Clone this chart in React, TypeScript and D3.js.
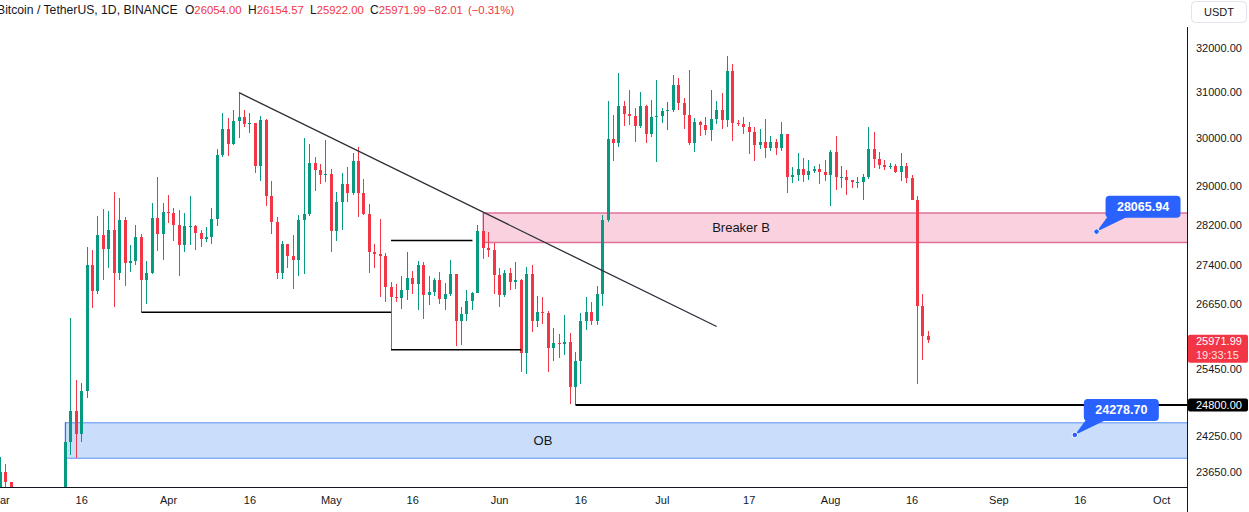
import React from "react";
import * as d3 from "d3";

type Row = [number, number, number, number, number]; // day, open, high, low, close

const march: Row[] = [
  [1, 23130, 23900, 23020, 23640], [2, 23640, 23780, 23195, 23470], [3, 23470, 23480, 21971, 22355],
  [4, 22355, 22410, 22150, 22346], [5, 22346, 22620, 22200, 22430], [6, 22430, 22560, 22250, 22410],
  [7, 22410, 22535, 21930, 22197], [8, 22197, 22270, 21580, 21705], [9, 21705, 21820, 20040, 20363],
  [10, 20363, 20367, 19549, 20187], [11, 20187, 20790, 19888, 20628], [12, 20628, 22200, 20390, 22163],
  [13, 22163, 24500, 21918, 24150], [14, 24150, 26386, 23930, 24700], [15, 24700, 25240, 23885, 24290],
  [16, 24290, 25200, 24150, 25050], [17, 25050, 27760, 24920, 27400], [18, 27400, 27710, 26580, 26900],
  [19, 26900, 28390, 26840, 27990], [20, 27990, 28520, 27120, 27720], [21, 27720, 28490, 27350, 28100],
  [22, 28100, 28870, 26600, 27250], [23, 27250, 28750, 27110, 28300], [24, 28300, 28360, 27000, 27450],
  [25, 27450, 27790, 27270, 27480], [26, 27480, 28195, 27400, 27960], [27, 27960, 28010, 26500, 27110],
  [28, 27110, 27480, 26650, 27250], [29, 27250, 28650, 27240, 28350], [30, 28350, 29184, 27680, 28020],
  [31, 28020, 28650, 27500, 28470],
];

const april: Row[] = [
  [1, 28470, 28800, 28230, 28440], [2, 28440, 28540, 27870, 28190], [3, 28190, 28500, 27200, 27790],
  [4, 27790, 28450, 27660, 28170], [5, 28170, 28780, 27800, 28180], [6, 28180, 28190, 27700, 28040],
  [7, 28040, 28100, 27770, 27920], [8, 27920, 28150, 27860, 27950], [9, 27950, 28540, 27820, 28320],
  [10, 28320, 29770, 28170, 29640], [11, 29640, 30550, 29590, 30200], [12, 30200, 30430, 29630, 29880],
  [13, 29880, 30600, 29860, 30370], [14, 30370, 30990, 30000, 30460], [15, 30460, 30600, 30240, 30300],
  [16, 30300, 30550, 30120, 30320], [17, 30320, 30330, 29260, 29420], [18, 29420, 30480, 29100, 30390],
  [19, 30390, 30410, 28580, 28790], [20, 28790, 29090, 28010, 28250], [21, 28250, 28370, 27130, 27260],
  [22, 27260, 27880, 27130, 27820], [23, 27820, 27820, 27340, 27580], [24, 27580, 28000, 26950, 27510],
  [25, 27510, 28400, 27200, 28300], [26, 28300, 30000, 27230, 28420], [27, 28420, 29880, 28380, 29480],
  [28, 29480, 29600, 28890, 29320], [29, 29320, 29450, 29030, 29230], [30, 29230, 29960, 29070, 29240],
];

const may: Row[] = [
  [1, 29240, 29340, 27670, 28070], [2, 28070, 28880, 27870, 28670], [3, 28670, 29270, 28100, 29030],
  [4, 29030, 29380, 28670, 28840], [5, 28840, 29680, 28800, 29510], [6, 29510, 29820, 28370, 28850],
  [7, 28850, 29140, 28400, 28430], [8, 28430, 28630, 27260, 27660], [9, 27660, 27820, 27350, 27620],
  [10, 27620, 28330, 26780, 27590], [11, 27590, 27650, 26700, 26970], [12, 26970, 27080, 25800, 26790],
  [13, 26790, 27030, 26690, 26770], [14, 26770, 27200, 26560, 26920], [15, 26920, 27670, 26740, 27160],
  [16, 27160, 27280, 26850, 27030], [17, 27030, 27490, 26550, 27410], [18, 27410, 27470, 26370, 26830],
  [19, 26830, 27200, 26630, 26890], [20, 26890, 27160, 26800, 27110], [21, 27110, 27270, 26650, 26750],
  [22, 26750, 27050, 26550, 26850], [23, 26850, 27500, 26800, 27225], [24, 27225, 27225, 25870, 26330],
  [25, 26330, 26600, 25880, 26470], [26, 26470, 26930, 26330, 26720], [27, 26720, 26890, 26540, 26870],
  [28, 26870, 28200, 26870, 28080], [29, 28080, 28447, 27520, 27740], [30, 27740, 28050, 27560, 27700],
  [31, 27700, 27840, 26840, 27210],
];

const june: Row[] = [
  [1, 27210, 27350, 26600, 26820], [2, 26820, 27300, 26780, 27250], [3, 27250, 27340, 26920, 27070],
  [4, 27070, 27460, 26950, 27110], [5, 27110, 27130, 25390, 25730], [6, 25730, 27360, 25350, 27230],
  [7, 27230, 27400, 26120, 26340], [8, 26340, 26800, 26230, 26500], [9, 26500, 26780, 26270, 26480],
  [10, 26480, 26530, 25400, 25840], [11, 25840, 26200, 25600, 25920], [12, 25920, 26090, 25650, 25900],
  [13, 25900, 26440, 25700, 25940], [14, 25940, 26100, 24820, 25130], [15, 25130, 25750, 24800, 25600],
  [16, 25600, 26490, 25170, 26340], [17, 26340, 26780, 26170, 26510], [18, 26510, 26700, 26260, 26340],
  [19, 26340, 27000, 26260, 26840], [20, 26840, 28400, 26610, 28310], [21, 28310, 30800, 28260, 29990],
  [22, 29990, 30500, 29520, 29890], [23, 29890, 31430, 29810, 30690], [24, 30690, 30800, 30260, 30530],
  [25, 30530, 31050, 30280, 30470], [26, 30470, 30650, 29920, 30270], [27, 30270, 31000, 30220, 30690],
  [28, 30690, 30710, 29900, 30080], [29, 30080, 30830, 30030, 30450], [30, 30450, 31280, 29500, 30480],
];

const july: Row[] = [
  [1, 30480, 30660, 30320, 30590], [2, 30590, 30790, 30170, 30620], [3, 30620, 31380, 30560, 31160],
  [4, 31160, 31320, 30620, 30770], [5, 30770, 30880, 30200, 30510], [6, 30510, 31500, 29850, 29900],
  [7, 29900, 30440, 29700, 30350], [8, 30350, 30380, 30050, 30290], [9, 30290, 30450, 30070, 30170],
  [10, 30170, 31045, 29950, 30420], [11, 30420, 30800, 30300, 30620], [12, 30620, 30990, 30200, 30390],
  [13, 30390, 31814, 30250, 31470], [14, 31470, 31640, 29940, 30330], [15, 30330, 30390, 30260, 30300],
  [16, 30300, 30460, 30080, 30240], [17, 30240, 30340, 29660, 30140], [18, 30140, 30240, 29520, 29860],
  [19, 29860, 30190, 29770, 29910], [20, 29910, 30420, 29570, 29800], [21, 29800, 30050, 29730, 29910],
  [22, 29910, 29990, 29640, 29790], [23, 29790, 30350, 29730, 30080], [24, 30080, 30100, 28860, 29180],
  [25, 29180, 29380, 29050, 29230], [26, 29230, 29690, 29100, 29350], [27, 29350, 29580, 29080, 29220],
  [28, 29220, 29530, 29120, 29310], [29, 29310, 29410, 29260, 29350], [30, 29350, 29450, 29030, 29280],
  [31, 29280, 29530, 29100, 29230],
];

const august: Row[] = [
  [1, 29230, 29740, 28590, 29710], [2, 29710, 30050, 28920, 29180], [3, 29180, 29410, 28960, 29190],
  [4, 29190, 29330, 28810, 29110], [5, 29110, 29125, 28950, 29070], [6, 29070, 29180, 28960, 29080],
  [7, 29080, 29250, 28700, 29180], [8, 29180, 30240, 29130, 29770], [9, 29770, 30140, 29370, 29560],
  [10, 29560, 29700, 29350, 29430], [11, 29430, 29540, 29330, 29400], [12, 29400, 29470, 29350, 29420],
  [13, 29420, 29450, 29260, 29280], [14, 29280, 29690, 29090, 29410], [15, 29410, 29480, 29060, 29170],
  [16, 29170, 29230, 28700, 28700], [17, 28700, 28790, 25170, 26620], [18, 26620, 26840, 25610, 26050],
  [19, 26054.0, 26154.57, 25922.0, 25971.99],
];

const monthBlocks: [number, Row[]][] = [
  [2, march], [3, april], [4, may], [5, june], [6, july], [7, august],
];

const priceTicks = [32000, 31000, 30000, 29000, 28200, 27400, 26650, 25450, 24250, 23650];
const timeTicks: [string, string][] = [
  ["2023-03-01", "Mar"], ["2023-03-16", "16"], ["2023-04-01", "Apr"], ["2023-04-16", "16"],
  ["2023-05-01", "May"], ["2023-05-16", "16"], ["2023-06-01", "Jun"], ["2023-06-16", "16"],
  ["2023-07-01", "Jul"], ["2023-07-17", "17"], ["2023-08-01", "Aug"], ["2023-08-16", "16"],
  ["2023-09-01", "Sep"], ["2023-09-16", "16"], ["2023-10-01", "Oct"],
];

const legendTitle = "Bitcoin / TetherUS, 1D, BINANCE";
const legendValues: [string, string][] = [["O", "26054.00"], ["H", "26154.57"], ["L", "25922.00"], ["C", "25971.99"]];
const legendChange = ["−82.01", "(−0.31%)"];

const zones = [
  { from: "2023-05-29", to: "2023-09-01", top: 28440, bottom: 27850, label: "Breaker B", fill: "#F9D1DF", stroke: "#E0709A" },
  { from: "2023-03-13", to: "2023-09-05", top: 24490, bottom: 23880, label: "OB", fill: "#CADDFB", stroke: "#86B0F4" },
];
const trendFrom: [string, number] = ["2023-04-14", 30990];
const trendTo: [string, number] = ["2023-07-11", 26230];
const levelLines = [
  { from: "2023-03-27", to: "2023-05-12", price: 26500 },
  { from: "2023-05-12", to: "2023-06-05", price: 25800 },
  { from: "2023-05-12", to: "2023-05-27", price: 27890 },
];
const supportLevel = { from: "2023-06-15", price: 24800 };
const callouts = [
  { date: "2023-09-19", price: 28065.94 },
  { date: "2023-09-15", price: 24278.7 },
];
const lastPrice = 25971.99;
const countdown = "19:33:15";

const W = 1249;
const H = 512;
const AXIS_X = 1187;
const AXIS_Y = 487;
const FONT = "'Liberation Sans', Arial, sans-serif";
const UP = "#089981";
const DOWN = "#F23645";
const INK = "#131722";

const parse = (s: string) => new Date(s + "T00:00:00Z");

export default function App() {
  const x = d3.scaleUtc().domain([parse("2023-04-01"), parse("2023-08-19")]).range([168.5, 928.3]);
  const y = d3.scaleLog().domain([23650, 32000]).range([471.7, 47.7]);

  const candles: { date: Date; o: number; h: number; l: number; c: number }[] = [];
  monthBlocks.forEach(([m, rows]) => {
    rows.forEach(([d, o, h, l, c]) => candles.push({ date: new Date(Date.UTC(2023, m, d)), o, h, l, c }));
  });

  const fmt = d3.format(".2f");
  const yl = y(lastPrice);
  const ys = y(supportLevel.price);
  const legendX = [185, 248, 310, 370];

  return (
    <div style={{ position: "absolute", left: 0, top: 0, width: W, height: H, background: "#fff" }}>
      <svg width={W} height={H} style={{ display: "block", fontFamily: FONT }}>
        <defs>
          <clipPath id="plot">
            <rect x={0} y={0} width={AXIS_X} height={AXIS_Y} />
          </clipPath>
        </defs>
        <rect x={0} y={0} width={W} height={H} fill="#fff" />
        <g clipPath="url(#plot)">
          {zones.map((z, i) => {
            const x0 = x(parse(z.from));
            const y0 = y(z.top);
            const y1 = y(z.bottom);
            return (
              <g key={"z" + i}>
                <rect x={x0} y={y0} width={AXIS_X - x0} height={y1 - y0} fill={z.fill} />
                <line x1={x0} x2={AXIS_X} y1={y0} y2={y0} stroke={z.stroke} strokeWidth={1.5} />
                <line x1={x0} x2={AXIS_X} y1={y1} y2={y1} stroke={z.stroke} strokeWidth={1.5} />
                <line x1={x0} x2={x0} y1={y0} y2={y1} stroke={z.stroke} strokeWidth={1.5} />
              </g>
            );
          })}
          {candles.map((k, i) => {
            const px = Math.floor(x(k.date));
            const col = k.c >= k.o ? UP : DOWN;
            const bt = Math.round(y(Math.max(k.o, k.c)));
            const bb = Math.round(y(Math.min(k.o, k.c)));
            const wt = Math.round(y(k.h));
            const wb = Math.round(y(k.l));
            return (
              <g key={"c" + i} fill={col}>
                <rect x={px} y={wt} width={1} height={Math.max(1, wb - wt)} />
                <rect x={px - 1} y={bt} width={3} height={Math.max(1, bb - bt)} />
              </g>
            );
          })}
          {zones.map((z, i) => {
            const cx = (x(parse(z.from)) + x(parse(z.to))) / 2;
            const cy = (y(z.top) + y(z.bottom)) / 2;
            return (
              <text key={"zl" + i} x={cx} y={cy} dy="0.35em" textAnchor="middle" fontSize={13} fill={INK}>
                {z.label}
              </text>
            );
          })}
          <line
            x1={x(parse(trendFrom[0]))} y1={y(trendFrom[1])}
            x2={x(parse(trendTo[0]))} y2={y(trendTo[1])}
            stroke="#2A2E39" strokeWidth={1.3}
          />
          {levelLines.map((l, i) => (
            <line key={"l" + i} x1={x(parse(l.from))} x2={x(parse(l.to))} y1={y(l.price)} y2={y(l.price)} stroke="#000" strokeWidth={1.5} />
          ))}
          <line x1={x(parse(supportLevel.from))} x2={AXIS_X} y1={ys} y2={ys} stroke="#000" strokeWidth={2} />
          {callouts.map((c, i) => {
            const ax = x(parse(c.date));
            const ay = y(c.price);
            const bx = ax + 9;
            const bw = 75;
            const bh = 22;
            const by = ay - 14 - bh;
            return (
              <g key={"co" + i}>
                <path d={`M${ax},${ay} L${bx + 2},${by + bh - 1} L${bx + 22},${by + bh - 1} Z`} fill="#2962FF" />
                <rect x={bx} y={by} width={bw} height={bh} rx={4} fill="#2962FF" />
                <circle cx={ax} cy={ay} r={2.8} fill="#2962FF" stroke="#fff" strokeWidth={1} />
                <text x={bx + bw / 2} y={by + bh / 2} dy="0.36em" textAnchor="middle" fontSize={12.5} fontWeight="bold" fill="#fff">
                  {fmt(c.price)}
                </text>
              </g>
            );
          })}
        </g>

        {/* axes */}
        <line x1={0} x2={AXIS_X} y1={AXIS_Y + 0.5} y2={AXIS_Y + 0.5} stroke={INK} strokeWidth={1} />
        <line x1={AXIS_X + 0.5} x2={AXIS_X + 0.5} y1={27} y2={H} stroke={INK} strokeWidth={1} />
        {priceTicks.map((p) => (
          <text key={"yt" + p} x={1196} y={y(p)} dy="0.35em" fontSize={11} fill={INK}>
            {fmt(p)}
          </text>
        ))}
        {timeTicks.map(([d, lab]) => (
          <text key={"xt" + d} x={x(parse(d))} y={500} dy="0.35em" textAnchor="middle" fontSize={11} fill={INK}>
            {lab}
          </text>
        ))}

        {/* price labels */}
        <rect x={AXIS_X + 1} y={ys - 6.5} width={60} height={13} rx={2} fill="#000" />
        <text x={1196} y={ys} dy="0.35em" fontSize={11} fill="#fff">{fmt(supportLevel.price)}</text>
        <rect x={AXIS_X + 1} y={yl - 5.5} width={60} height={28} rx={2} fill={DOWN} />
        <text x={1196} y={yl + 0.5} dy="0.35em" fontSize={11} fill="#fff">{fmt(lastPrice)}</text>
        <text x={1196} y={yl + 14.5} dy="0.35em" fontSize={11} fill="#FFE1E4">{countdown}</text>

        {/* currency button */}
        <rect x={1191.5} y={1.5} width={55} height={21} rx={4} fill="#fff" stroke="#E0E3EB" />
        <text x={1219} y={12.5} dy="0.35em" textAnchor="middle" fontSize={11} fill={INK}>USDT</text>

        {/* legend */}
        <text x={-3} y={14} fontSize={12.2} fill={INK}>{legendTitle}</text>
        {legendValues.map(([k, v], i) => (
          <text key={"lg" + k} x={legendX[i]} y={14} fontSize={12} fill={INK}>
            {k}
            <tspan fontSize={11.3} fill={DOWN}>{v}</tspan>
          </text>
        ))}
        <text x={428} y={14} fontSize={11.3} fill={DOWN}>{legendChange[0]}</text>
        <text x={468} y={14} fontSize={11.3} fill={DOWN}>{legendChange[1]}</text>
      </svg>
    </div>
  );
}
